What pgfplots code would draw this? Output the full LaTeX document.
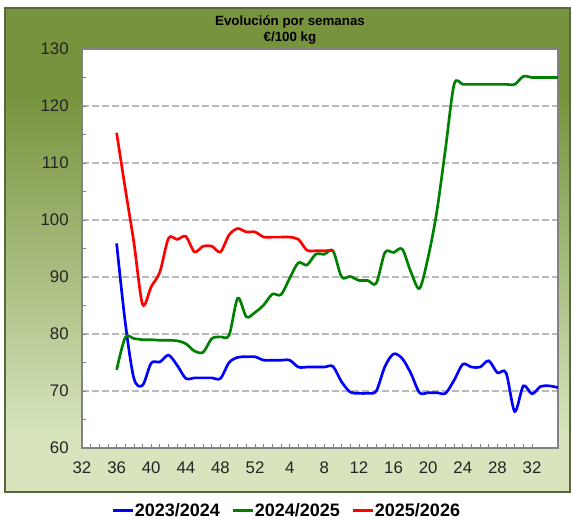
\documentclass[border=0pt]{standalone}
\usepackage{fontspec}
\setmainfont{Liberation Sans}
\usepackage{pgfplots}
\pgfplotsset{compat=1.18}
\definecolor{cblue}{RGB}{0,0,255}
\definecolor{cgreen}{RGB}{0,128,0}
\definecolor{cred}{RGB}{255,0,0}
\definecolor{pdark}{RGB}{120,147,62}
\definecolor{plight}{RGB}{215,228,189}
\definecolor{gridc}{RGB}{185,185,185}
\definecolor{framec}{RGB}{130,130,130}
\definecolor{panelborder}{RGB}{90,105,60}
\definecolor{labelc}{RGB}{35,35,35}
\pgfdeclareverticalshading{panelshade}{100bp}{color(0bp)=(plight); color(25bp)=(plight); color(31bp)=(plight); color(66bp)=(pdark); color(75bp)=(pdark); color(100bp)=(pdark)}

\pgfplotstableread{
x y
4 95.9
5 82.0
6 72.2
7 71.0
8 74.9
9 75.1
10 76.3
11 74.5
12 72.2
13 72.3
14 72.3
15 72.3
16 72.2
17 75.0
18 75.9
19 76.0
20 76.0
21 75.4
22 75.4
23 75.4
24 75.4
25 74.2
26 74.2
27 74.2
28 74.2
29 74.3
30 71.6
31 69.8
32 69.6
33 69.6
34 70.0
35 74.3
36 76.5
37 75.7
38 73.1
39 69.7
40 69.7
41 69.7
42 69.6
43 71.9
44 74.7
45 74.2
46 74.2
47 75.3
48 73.2
49 73.2
50 66.4
51 70.9
52 69.5
53 70.8
54 70.9
55 70.6
}\tblue

\pgfplotstableread{
x y
4 73.7
5 79.4
6 79.2
7 79.0
8 79.0
9 78.9
10 78.9
11 78.8
12 78.3
13 77.0
14 76.8
15 79.2
16 79.5
17 79.8
18 86.3
19 83.0
20 83.8
21 85.1
22 87.0
23 86.9
24 89.8
25 92.5
26 92.1
27 94.0
28 94.0
29 94.6
30 90.0
31 90.1
32 89.4
33 89.4
34 88.9
35 94.3
36 94.3
37 94.9
38 90.9
39 88.0
40 93.5
41 101.5
42 112.5
43 123.8
44 123.8
45 123.8
46 123.8
47 123.8
48 123.8
49 123.8
50 123.8
51 125.2
52 125.0
53 125.0
54 125.0
55 125.0
}\tgreen

\pgfplotstableread{
x y
4 115.3
5 105.5
6 96.0
7 85.2
8 88.3
9 90.9
10 96.8
11 96.6
12 97.1
13 94.4
14 95.4
15 95.4
16 94.4
17 97.4
18 98.5
19 97.9
20 97.9
21 97.0
22 97.0
23 97.0
24 97.0
25 96.6
26 94.7
27 94.6
28 94.6
29 94.7
}\tred

\begin{document}
\begin{tikzpicture}
\useasboundingbox (-61.5pt,-54pt) rectangle (367.5pt,336pt);
\shadedraw[shading=panelshade, draw=panelborder, line width=0.8pt] (-57.75pt,-33pt) rectangle (366pt,330pt);
\node[anchor=base, font=\fontsize{10}{12}\selectfont\bfseries] at (156pt,316.9pt) {Evolución por semanas};
\node[anchor=base, font=\fontsize{10}{12}\selectfont\bfseries] at (156pt,304.5pt) {€/100 kg};
\begin{axis}[
  at={(0pt,0pt)}, anchor=south west,
  scale only axis, width=357pt, height=299.25pt,
  xmin=0, xmax=55, ymin=60, ymax=130,
  axis background/.style={fill=white},
  axis line style={framec, line width=0.8pt},
  xtick={0,4,...,52},
  xticklabels={32,36,40,44,48,52,4,8,12,16,20,24,28,32},
  minor x tick num=3,
  ytick={60,70,...,130},
  minor y tick num=1,
  xtick pos=bottom, ytick pos=left,
  tick align=inside,
  major tick length=3pt, minor tick length=3pt,
  tick style={framec, line width=0.6pt},
  ymajorgrids,
  major grid style={gridc, dash pattern=on 5pt off 2.5pt, line width=0.9pt},
  /pgf/number format/assume math mode=true,
  tick label style={font=\fontsize{12.6}{14}\selectfont, text=labelc},
  yticklabel style={xshift=-6.5pt},
  xticklabel style={yshift=-7pt},
  legend columns=3,
  legend style={at={(0.4286,-0.157)}, anchor=center, draw=none, fill=none,
    font=\fontsize{13.5}{15}\selectfont\bfseries,
    /tikz/every even column/.append style={column sep=8pt},
    nodes={inner sep=0.5pt}},
  legend cell align=left,
  legend image code/.code={\draw[#1, line width=2.2pt] (0pt,0pt) -- (15pt,0pt);},
]
\addplot[cblue, line width=2pt, smooth, tension=0.5] table[x=x,y=y] {\tblue};
\addlegendentry{2023/2024}
\addplot[cgreen, line width=2pt, smooth, tension=0.5] table[x=x,y=y] {\tgreen};
\addlegendentry{2024/2025}
\addplot[cred, line width=2pt, smooth, tension=0.5] table[x=x,y=y] {\tred};
\addlegendentry{2025/2026}
\end{axis}
\end{tikzpicture}
\end{document}
